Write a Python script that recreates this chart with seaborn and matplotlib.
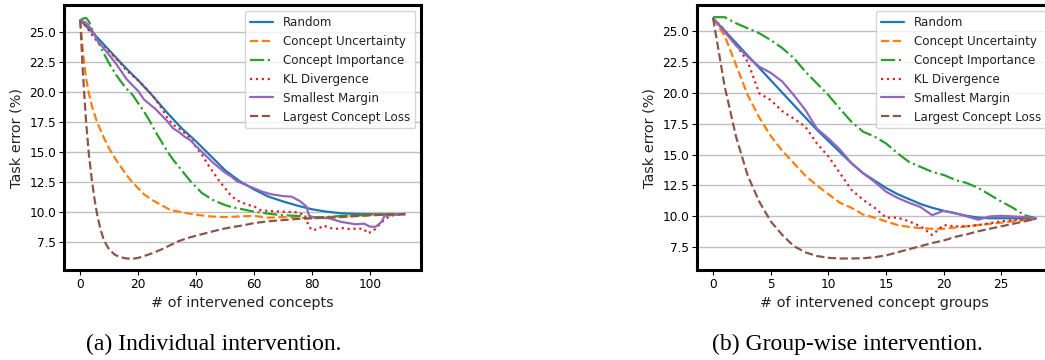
import matplotlib
matplotlib.use("Agg")
import matplotlib.pyplot as plt
import seaborn as sns
import pandas as pd

# ---------------- data: (a) individual intervention ----------------
ind_random_x = [0, 5, 10, 15, 20, 25, 30, 35, 40, 45, 50, 55, 60, 65, 70, 75, 80, 85, 90, 95, 100, 105, 112]
ind_random_y = [26.0, 24.8, 23.5, 22.2, 21.0, 19.7, 18.3, 17.0, 15.9, 14.7, 13.5, 12.6, 11.9, 11.3, 10.9,
                10.55, 10.25, 10.05, 9.92, 9.86, 9.84, 9.83, 9.83]

ind_unc_x = [0, 1, 2, 3, 4, 5, 6, 8, 10, 12, 14, 16, 18, 20, 22, 25, 28, 31, 35, 40, 45, 50, 55, 60, 65,
             70, 75, 80, 85, 90, 95, 100, 105, 112]
ind_unc_y = [26.0, 23.2, 21.2, 19.9, 18.9, 18.1, 17.4, 16.3, 15.3, 14.5, 13.8, 13.1, 12.5, 12.0, 11.5, 11.0,
             10.6, 10.2, 10.0, 9.8, 9.65, 9.6, 9.65, 9.7, 9.55, 9.6, 9.55, 9.5, 9.6, 9.65, 9.7, 9.75, 9.8, 9.85]

ind_imp_x = [0, 1, 2, 3, 4, 6, 8, 10, 12, 14, 16, 18, 20, 22, 24, 26, 28, 30, 32, 34, 36, 38, 40, 42, 44,
             46, 48, 50, 52, 55, 58, 60, 63, 66, 70, 75, 80, 85, 90, 95, 100, 105, 112]
ind_imp_y = [26.0, 26.15, 26.2, 25.9, 25.3, 24.3, 23.3, 22.4, 21.6, 20.9, 20.3, 19.8, 19.1, 18.4, 17.6,
             16.7, 15.9, 15.1, 14.4, 13.8, 13.2, 12.6, 12.1, 11.6, 11.3, 11.0, 10.8, 10.6, 10.45, 10.3,
             10.15, 10.05, 9.95, 9.85, 9.75, 9.7, 9.6, 9.6, 9.7, 9.75, 9.8, 9.82, 9.85]

ind_kl_x = [0, 2, 4, 6, 8, 10, 12, 14, 16, 18, 20, 22, 24, 26, 28, 30, 32, 34, 36, 38, 40, 42, 44, 46, 48,
            50, 52, 54, 56, 58, 60, 62, 65, 70, 75, 77, 78, 79, 80, 82, 84, 86, 88, 90, 93, 96, 98, 99,
            101, 103, 105, 107, 109, 112]
ind_kl_y = [26.0, 25.5, 24.8, 24.2, 23.8, 23.4, 22.9, 22.4, 21.8, 21.4, 21.0, 20.5, 20.0, 19.4, 18.7, 17.9,
            17.3, 17.0, 16.6, 16.2, 15.4, 14.8, 14.0, 13.3, 12.6, 12.0, 11.4, 11.0, 10.8, 10.6, 10.5, 10.2,
            10.1, 10.05, 10.0, 9.8, 9.4, 8.8, 8.5, 8.6, 8.9, 8.7, 8.6, 8.7, 8.6, 8.65, 8.6, 8.25, 8.4, 8.9,
            9.4, 9.7, 9.8, 9.85]

ind_mar_x = [0, 2, 4, 6, 8, 10, 12, 14, 16, 18, 20, 22, 24, 26, 28, 30, 32, 34, 36, 38, 40, 43, 46, 50,
             52, 54, 57, 60, 63, 66, 70, 73, 76, 78, 79, 81, 86, 90, 95, 98, 100, 102, 104, 105, 108, 112]
ind_mar_y = [26.0, 25.8, 25.2, 24.3, 23.7, 23.1, 22.5, 21.8, 21.1, 20.6, 20.1, 19.4, 19.0, 18.6, 18.1,
             17.6, 17.0, 16.7, 16.3, 16.0, 15.5, 14.8, 14.1, 13.3, 13.0, 12.6, 12.3, 12.0, 11.7, 11.5,
             11.35, 11.3, 10.9, 10.5, 9.7, 9.55, 9.5, 9.2, 9.0, 9.05, 8.8, 8.8, 9.2, 9.7, 9.78, 9.88]

ind_loss_x = [0, 1, 2, 3, 4, 5, 6, 7, 8, 9, 10, 12, 14, 16, 18, 20, 22, 25, 28, 31, 34, 37, 40, 44, 48,
              52, 56, 60, 65, 70, 75, 80, 85, 90, 95, 100, 105, 112]
ind_loss_y = [26.0, 21.3, 17.6, 14.8, 12.7, 11.0, 9.6, 8.6, 7.8, 7.3, 6.9, 6.45, 6.25, 6.15, 6.12, 6.2,
              6.35, 6.6, 6.9, 7.25, 7.6, 7.85, 8.05, 8.3, 8.55, 8.75, 8.9, 9.1, 9.25, 9.35, 9.45, 9.5,
              9.55, 9.6, 9.68, 9.75, 9.8, 9.85]

# ---------------- data: (b) group-wise intervention ----------------
grp_x = list(range(29))
grp_random = [26.0, 25.0, 24.0, 23.0, 22.0, 21.0, 20.0, 19.0, 18.0, 17.0, 16.1, 15.2, 14.3, 13.5, 12.9,
              12.3, 11.8, 11.4, 11.0, 10.7, 10.45, 10.25, 10.05, 9.9, 9.85, 9.85, 9.85, 9.83, 9.82]
grp_unc = [26.0, 24.6, 22.2, 19.8, 18.0, 16.5, 15.3, 14.3, 13.3, 12.5, 11.8, 11.1, 10.7, 10.15, 9.9, 9.6,
           9.3, 9.15, 9.05, 9.0, 9.0, 9.1, 9.2, 9.3, 9.4, 9.5, 9.6, 9.7, 9.8]
grp_imp = [26.1, 26.1, 25.6, 25.2, 24.8, 24.25, 23.6, 22.8, 21.7, 20.75, 19.8, 18.7, 17.65, 16.85, 16.45,
           15.9, 15.1, 14.4, 14.0, 13.6, 13.35, 12.95, 12.7, 12.3, 11.75, 11.2, 10.7, 10.1, 9.85]
grp_kl = [26.0, 25.05, 23.85, 22.5, 19.95, 19.4, 18.5, 17.9, 17.25, 15.9, 14.85, 13.5, 12.15, 11.35, 10.7,
          9.9, 9.9, 9.6, 9.2, 8.5, 9.3, 9.2, 9.2, 9.3, 9.45, 9.6, 9.7, 9.75, 9.8]
grp_mar = [26.0, 24.9, 23.8, 22.9, 22.1, 21.6, 20.9, 19.8, 18.6, 17.1, 16.3, 15.4, 14.3, 13.5, 12.8, 12.0,
           11.5, 11.1, 10.75, 10.1, 10.45, 10.27, 10.0, 9.73, 10.0, 10.05, 10.0, 9.95, 9.85]
grp_loss = [26.0, 20.5, 16.4, 13.3, 11.2, 9.6, 8.5, 7.6, 7.1, 6.8, 6.65, 6.6, 6.6, 6.62, 6.7, 6.85, 7.1,
            7.35, 7.6, 7.85, 8.05, 8.35, 8.55, 8.8, 9.0, 9.2, 9.4, 9.6, 9.8]

labels = ["Random", "Concept Uncertainty", "Concept Importance", "KL Divergence",
          "Smallest Margin", "Largest Concept Loss"]
colors = ["#1f77b4", "#ff7f0e", "#2ca02c", "#d62728", "#9467bd", "#8c564b"]
styles = ["-", "--", "-.", ":", "-", "--"]

ind_series = [(ind_random_x, ind_random_y), (ind_unc_x, ind_unc_y), (ind_imp_x, ind_imp_y),
              (ind_kl_x, ind_kl_y), (ind_mar_x, ind_mar_y), (ind_loss_x, ind_loss_y)]
grp_series = [(grp_x, grp_random), (grp_x, grp_unc), (grp_x, grp_imp),
              (grp_x, grp_kl), (grp_x, grp_mar), (grp_x, grp_loss)]

sns.set_theme(style="whitegrid", rc={
    "axes.edgecolor": "black",
    "axes.linewidth": 2.2,
    "grid.color": "#c0c0c0",
    "grid.linewidth": 1.0,
    "xtick.bottom": True,
    "ytick.left": True,
    "xtick.color": "black",
    "ytick.color": "black",
    "xtick.major.size": 3.5,
    "ytick.major.size": 3.5,
    "xtick.major.width": 0.8,
    "ytick.major.width": 0.8,
    "text.color": "#222222",
    "axes.labelcolor": "#222222",
})
plt.rcParams["font.family"] = ["DejaVu Sans"]

fig = plt.figure(figsize=(10.45, 3.6), dpi=100)
ax1 = fig.add_axes([64 / 1045, 0.25, 357 / 1045, 0.736])
ax2 = fig.add_axes([697 / 1045, 0.25, 355 / 1045, 0.736])


def draw(ax, series, xlabel):
    for (xs, ys), lab, c, ls in zip(series, labels, colors, styles):
        df = pd.DataFrame({"x": xs, "y": ys})
        sns.lineplot(data=df, x="x", y="y", ax=ax, color=c, linestyle=ls, linewidth=1.6,
                     label=lab, legend=False)
    ax.grid(axis="x", visible=False)
    ax.grid(axis="y", visible=True)
    ax.set_xlabel(xlabel, fontsize=10.4)
    ax.set_ylabel("Task error (%)", fontsize=10.4)
    ax.tick_params(labelsize=8.7, pad=2)
    ax.set_yticks([7.5, 10.0, 12.5, 15.0, 17.5, 20.0, 22.5, 25.0])
    ax.yaxis.set_major_formatter(matplotlib.ticker.FormatStrFormatter("%.1f"))
    ax.legend(loc="upper right", fontsize=8.6, frameon=True, fancybox=True,
              framealpha=0.8, edgecolor="#cccccc")


draw(ax1, ind_series, "# of intervened concepts")
ax1.set_xlim(-5.6, 117.6)
ax1.set_ylim(5.19, 27.27)
ax1.set_xticks([0, 20, 40, 60, 80, 100])

draw(ax2, grp_series, "# of intervened concept groups")
ax2.set_xlim(-1.4, 29.4)
ax2.set_ylim(5.67, 27.08)
ax2.set_xticks([0, 5, 10, 15, 20, 25])

fig.text(214 / 1045, 10 / 360, "(a) Individual intervention.", ha="center", va="baseline",
         fontsize=17, family=["Liberation Serif", "DejaVu Serif"], color="black")
fig.text(847 / 1045, 10 / 360, "(b) Group-wise intervention.", ha="center", va="baseline",
         fontsize=17, family=["Liberation Serif", "DejaVu Serif"], color="black")

fig.savefig("out.png", dpi=100)
